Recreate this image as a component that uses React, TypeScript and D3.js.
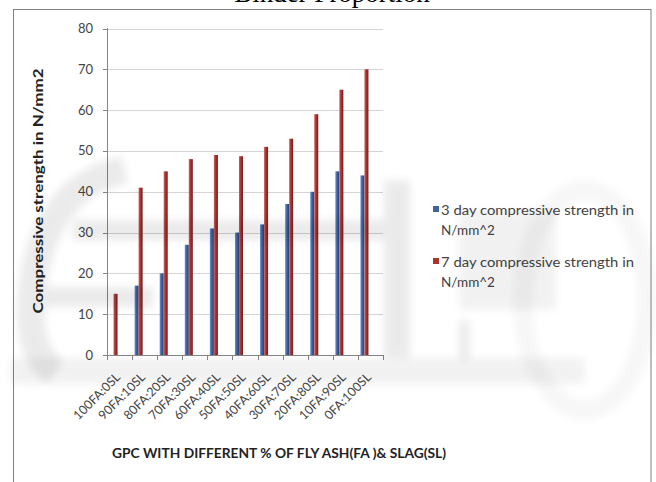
import React from "react";
import * as d3 from "d3";

const categories = [
  "100FA:0SL", "90FA:10SL", "80FA:20SL", "70FA:30SL", "60FA:40SL", "50FA:50SL",
  "40FA:60SL", "30FA:70SL", "20FA:80SL", "10FA:90SL", "0FA:100SL",
];
const day3 = [0, 17, 20, 27, 31, 30, 32, 37, 40, 45, 44];
const day7 = [15, 41, 45, 48, 49, 48.7, 51, 53, 59, 65, 70];
const seriesNames = ["3 day compressive strength in N/mm^2", "7 day compressive strength in N/mm^2"];
const yTicks = [0, 10, 20, 30, 40, 50, 60, 70, 80];
const titleText = "Binder Proportion";
const xTitle = "GPC WITH DIFFERENT % OF FLY ASH(FA )& SLAG(SL)";
const yTitle = "Compressive strength in N/mm2";

const W = 656, H = 482;
const FONT = "Lato, 'Open Sans', sans-serif";

export default function App() {
  const x0 = d3.scaleBand<string>().domain(categories).range([107, 383]).paddingInner(0).paddingOuter(0);
  const bw = x0.bandwidth();
  const x1 = d3.scaleBand<string>().domain(["s3", "s7"]).range([bw * 0.1, bw * 0.42]);
  const y = d3.scaleLinear().domain([0, 80]).range([355, 28.5]);

  const series = [
    { key: "s3", values: day3, grad: "gBlue" },
    { key: "s7", values: day7, grad: "gRed" },
  ];

  const wm = "#000";
  return (
    <svg width={W} height={H} style={{ position: "absolute", left: 0, top: 0, background: "#fff" }}>
      <defs>
        <linearGradient id="gBlue" x1="0" x2="1" y1="0" y2="0">
          <stop offset="0" stopColor="#6a92cf" />
          <stop offset="0.45" stopColor="#3f63a3" />
          <stop offset="1" stopColor="#283f6b" />
        </linearGradient>
        <linearGradient id="gRed" x1="0" x2="1" y1="0" y2="0">
          <stop offset="0" stopColor="#d0605c" />
          <stop offset="0.45" stopColor="#a63431" />
          <stop offset="1" stopColor="#6e1f1f" />
        </linearGradient>
        <filter id="blur" x="-20%" y="-20%" width="140%" height="140%">
          <feGaussianBlur stdDeviation="4" />
        </filter>
      </defs>

      {/* title (cut off at top, as in the reference) */}
      <text x={332} y={1.5} textAnchor="middle" fontFamily="'Liberation Serif', 'Times New Roman', serif" fontSize={27} fill="#000">
        {titleText}
      </text>

      {/* frame */}
      <rect x={13.5} y={9.5} width={637.5} height={500} fill="none" stroke="#808080" strokeWidth={1} />

      {/* gridlines */}
      {yTicks.map((t) => (
        <line key={"g" + t} x1={107} x2={383} y1={Math.round(y(t)) + 0.5} y2={Math.round(y(t)) + 0.5} stroke="#d4d4d4" strokeWidth={1} />
      ))}

      {/* bars */}
      {series.map((s) =>
        categories.map((c, i) => {
          const v = s.values[i];
          if (!v) return null;
          const bx = (x0(c) as number) + (x1(s.key) as number);
          return <rect key={s.key + c} x={bx} y={y(v)} width={x1.bandwidth()} height={y(0) - y(v)} fill={`url(#${s.grad})`} />;
        })
      )}

      {/* axes */}
      <line x1={107.5} x2={107.5} y1={28} y2={355.5} stroke="#868686" />
      <line x1={107} x2={383} y1={355.5} y2={355.5} stroke="#868686" />
      {yTicks.map((t) => (
        <line key={"yt" + t} x1={103} x2={107} y1={Math.round(y(t)) + 0.5} y2={Math.round(y(t)) + 0.5} stroke="#868686" />
      ))}
      {[...categories, "end"].map((c, i) => {
        const xx = Math.round(107 + i * bw) + 0.5;
        return <line key={"xt" + i} x1={xx} x2={xx} y1={355} y2={360} stroke="#868686" />;
      })}

      {/* y tick labels */}
      {yTicks.map((t) => (
        <text key={"yl" + t} x={93} y={y(t)} dy="0.35em" textAnchor="end" fontFamily={FONT} fontSize={13} fill="#444">
          {t}
        </text>
      ))}

      {/* x tick labels */}
      {categories.map((c) => {
        const cx = (x0(c) as number) + bw / 2 + 1.5;
        const cy = 378;
        return (
          <text key={"xl" + c} x={cx} y={cy} textAnchor="end" transform={`rotate(-45 ${cx} ${cy})`} fontFamily={FONT} fontSize={12.5} fill="#444">
            {c}
          </text>
        );
      })}

      {/* axis titles */}
      <text x={279} y={458} textAnchor="middle" fontFamily={FONT} fontWeight="bold" fontSize={13} fill="#222" textLength={334} lengthAdjust="spacingAndGlyphs">
        {xTitle}
      </text>
      <text transform="translate(43,191) rotate(-90)" textAnchor="middle" fontFamily={FONT} fontWeight="bold" fontSize={13} fill="#222" textLength={245} lengthAdjust="spacingAndGlyphs">
        {yTitle}
      </text>

      {/* legend */}
      {seriesNames.map((name, i) => {
        const parts = name.split(" in ");
        const ly = 206 + i * 52;
        return (
          <g key={"lg" + i}>
            <rect x={433} y={ly} width={6} height={6} fill={i === 0 ? "#3f63a3" : "#a63431"} />
            <text x={441} y={ly + 9} fontFamily={FONT} fontSize={13.5} fill="#444" textLength={193} lengthAdjust="spacingAndGlyphs">
              {parts[0] + " in"}
            </text>
            <text x={441} y={ly + 29} fontFamily={FONT} fontSize={13.5} fill="#444">
              {parts[1]}
            </text>
          </g>
        );
      })}

      {/* faint watermark */}
      <g filter="url(#blur)" fill={wm} opacity={0.08}>
        <path d="M 125 170 Q 45 185 32 290 Q 25 350 55 372" fill="none" stroke={wm} strokeWidth={28} />
        <rect x={73} y={220} width={337} height={20} />
        <rect x={384} y={180} width={26} height={178} />
        <rect x={33} y={287} width={120} height={20} />
        <rect x={459} y={320} width={11} height={40} />
      </g>
      <g filter="url(#blur)" fill={wm} opacity={0.05}>
        <rect x={10} y={358} width={575} height={26} />
        <rect x={459} y={210} width={97} height={100} />
      </g>
      <g filter="url(#blur)" opacity={0.03}>
        <ellipse cx={585} cy={300} rx={62} ry={110} fill="none" stroke={wm} strokeWidth={20} />
      </g>
    </svg>
  );
}
